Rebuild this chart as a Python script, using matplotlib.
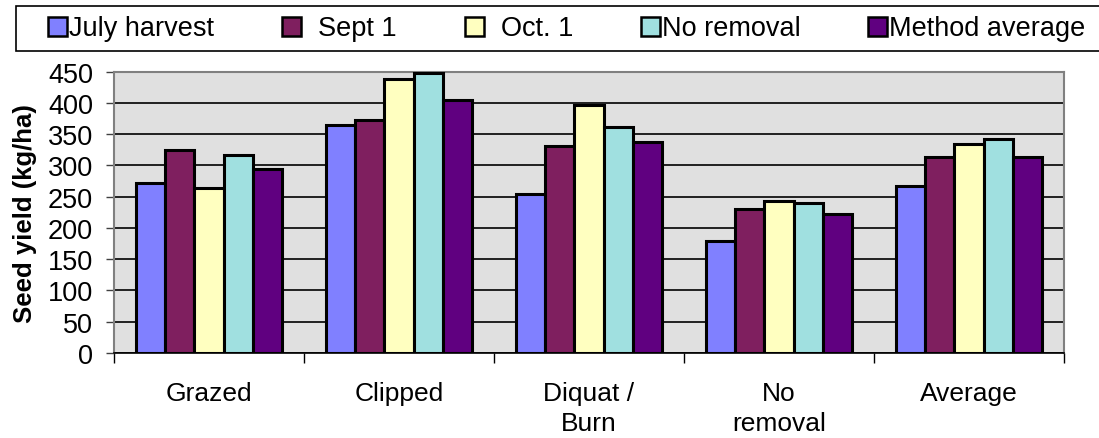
import numpy as np
from matplotlib import pyplot as plt
from matplotlib.patches import Rectangle

plt.rcParams['font.family'] = ['Liberation Sans', 'DejaVu Sans']

categories = ['Grazed', 'Clipped', 'Diquat /\nBurn', 'No\nremoval', 'Average']
series = ['July harvest', '  Sept 1', '  Oct. 1', 'No removal', 'Method average']

july = [272, 364, 254, 179, 267]
sept = [324, 372, 331, 230, 313]
oct1 = [264, 438, 396, 243, 335]
no_removal = [317, 448, 362, 240, 342]
method_avg = [294, 405, 337, 223, 314]

values = [july, sept, oct1, no_removal, method_avg]
colors = ['#8080FF', '#7F1F5F', '#FFFFC0', '#A0E0E0', '#600080']

fig = plt.figure(figsize=(10.99, 4.39), dpi=100)
ax = fig.add_axes([0.1037, 0.1936, 0.8644, 0.6408])
ax.set_facecolor('#E0E0E0')

x = np.arange(len(categories))
width = 0.154
for i, (name, vals) in enumerate(zip(series, values)):
    ax.bar(x + (i - 2) * width, vals, width, color=colors[i], edgecolor='black',
           linewidth=2.2, label=name, zorder=3)

ax.set_xlim(-0.5, len(categories) - 0.5)
ax.set_ylim(0, 450)
ax.set_yticks(range(0, 451, 50))
ax.yaxis.grid(True, color='black', linewidth=1.2, zorder=1)

ax.set_xticks(x)
ax.set_xticklabels(categories, fontsize=19, linespacing=1.35)
ax.set_xticks(np.arange(-0.5, len(categories)), minor=True)
ax.tick_params(axis='x', which='major', length=0, pad=20)
ax.tick_params(axis='x', which='minor', length=7, width=1, color='black')
ax.tick_params(axis='y', labelsize=19.5, length=6, width=1, color='#404040', pad=9)

for s in ['left', 'top', 'right']:
    ax.spines[s].set_color('#808080')
    ax.spines[s].set_linewidth(1.5)
ax.spines['bottom'].set_color('black')
ax.spines['bottom'].set_linewidth(1.2)

ax.set_ylabel('Seed yield (kg/ha)', fontsize=18.5, fontweight='bold', labelpad=8)

# legend box drawn separately, like the wide Excel legend frame
fig.patches.append(Rectangle((16 / 1099, 1 - 52 / 439), 1.0, 45 / 439,
                             transform=fig.transFigure, facecolor='white',
                             edgecolor='black', linewidth=1.2, zorder=0))
leg = fig.legend(loc='center', bbox_to_anchor=(567 / 1099, 1 - 29.5 / 439),
                 ncol=5, fontsize=19.5, frameon=False,
                 handlelength=0.7, handleheight=0.7, handletextpad=0.08,
                 columnspacing=2.5, borderpad=0, borderaxespad=0)
for h in leg.legend_handles:
    h.set_linewidth(1.8)

fig.savefig('out.png', dpi=100)
